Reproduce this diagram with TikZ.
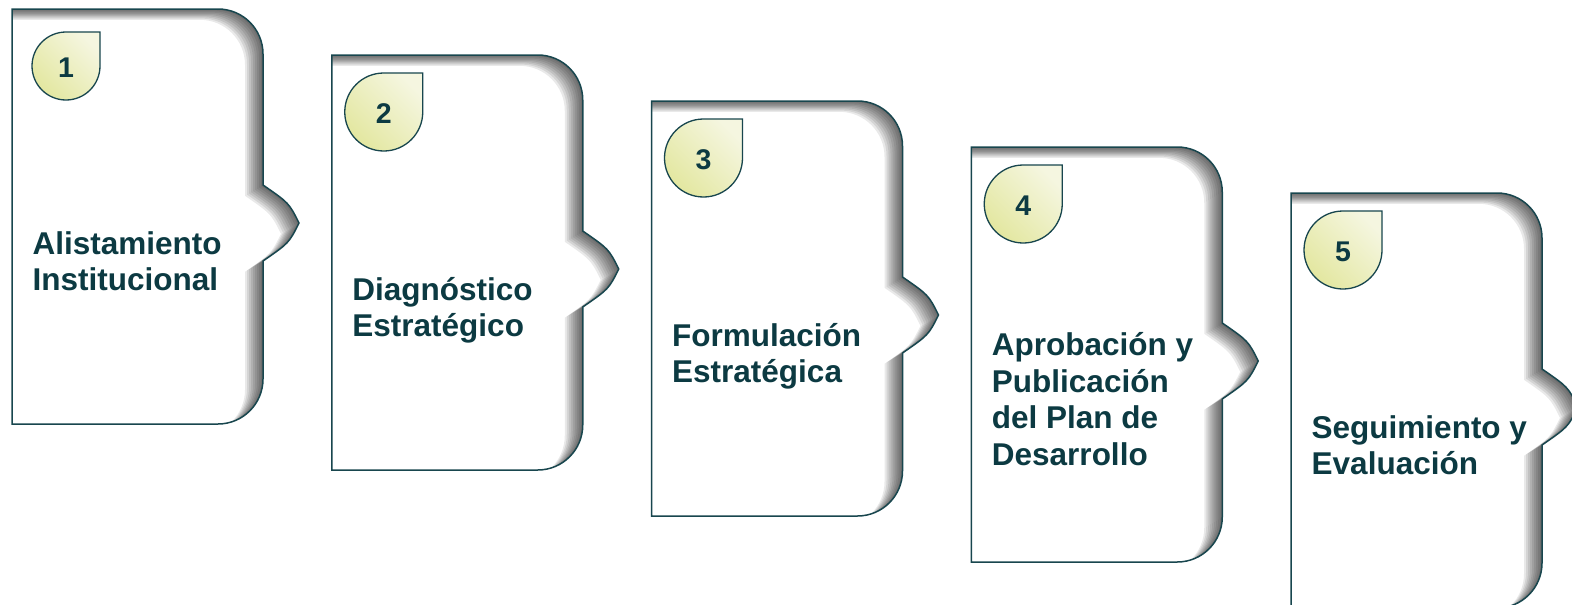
\documentclass[tikz,border=0pt]{standalone}
\usepackage{fontspec}
\setmainfont{Liberation Sans}
\definecolor{sarcelle}{RGB}{12,58,66}
\definecolor{bordure}{RGB}{24,70,78}
\definecolor{pastilleclaire}{RGB}{245,246,224}
\definecolor{pastillefoncee}{RGB}{227,231,160}
\begin{document}
\begin{tikzpicture}[x=1pt,y=-1pt]
		\tikzstyle{carte}=[draw=bordure,line width=1.5pt]
		\tikzstyle{fond}=[fill=white]
		\tikzstyle{ombre}=[fill=black,opacity=0.085,even odd rule]
		\tikzstyle{pastille}=[draw=bordure,line width=1.3pt,top color=pastilleclaire,bottom color=pastillefoncee,shading angle=-45]
		\tikzstyle{numero}=[text=sarcelle,font=\bfseries\fontsize{28.5}{30}\selectfont,inner sep=0pt]
		\tikzstyle{titre}=[anchor=west,align=left,text=sarcelle,font=\bfseries\fontsize{31.5}{36.5}\selectfont,inner sep=0pt]
		\def\CheminCarte#1#2{({#1},{#2}) -- ({#1+206},{#2}) arc[start angle=-90,end angle=0,radius=45] -- ({#1+251},{#2+176}) .. controls ({#1+277},{#2+194}) .. ({#1+287},{#2+214}) .. controls ({#1+277},{#2+234}) .. ({#1+251},{#2+252}) -- ({#1+251},{#2+370}) arc[start angle=0,end angle=90,radius=45] -- ({#1},{#2+415}) -- cycle}
		\def\Carte#1#2{%
			\fill[fond] \CheminCarte{#1}{#2};
			\begin{scope}
				\clip \CheminCarte{#1}{#2};
				\foreach \k in {1,...,9} {\fill[ombre] ({#1-20},{#2-20}) rectangle ({#1+320},{#2+440}) \CheminCarte{#1-2*\k}{#2+1.2*\k};}
			\end{scope}
			\draw[carte] \CheminCarte{#1}{#2};}
		\def\Pastille#1#2#3{\draw[pastille] ({#1+#3},{#2}) arc[start angle=0,end angle=270,radius=#3] -- ({#1+#3},{#2-#3}) -- cycle;}
		\useasboundingbox (0,0) rectangle (1572,605);
		% cartes
		\Carte{12}{9}
		\Carte{331.75}{55}
		\Carte{651.5}{101}
		\Carte{971.25}{147}
		\Carte{1291}{193}
		% pastilles
		\Pastille{66}{66}{34}
		\Pastille{383.75}{112}{39}
		\Pastille{703.5}{158}{39}
		\Pastille{1023.25}{204}{39}
		\Pastille{1343}{250}{39}
		\node[numero] (n1) at (66,68) {1};
		\node[numero] (n2) at (383.75,114) {2};
		\node[numero] (n3) at (703.5,160) {3};
		\node[numero] (n4) at (1023.25,206) {4};
		\node[numero] (n5) at (1343,252) {5};
		% titres
		\node[titre] (t1) at (32.5,265.2) {Alistamiento\strut\\Institucional\strut};
		\node[titre] (t2) at (352.25,311.2) {Diagnóstico\strut\\Estratégico\strut};
		\node[titre] (t3) at (672,357.2) {Formulación\strut\\Estratégica\strut};
		\node[titre] (t4) at (991.75,403.2) {Aprobación y\strut\\Publicación\strut\\del Plan de\strut\\Desarrollo\strut};
		\node[titre] (t5) at (1311.5,449.2) {Seguimiento y\strut\\Evaluación\strut};
	\end{tikzpicture}
\end{document}
